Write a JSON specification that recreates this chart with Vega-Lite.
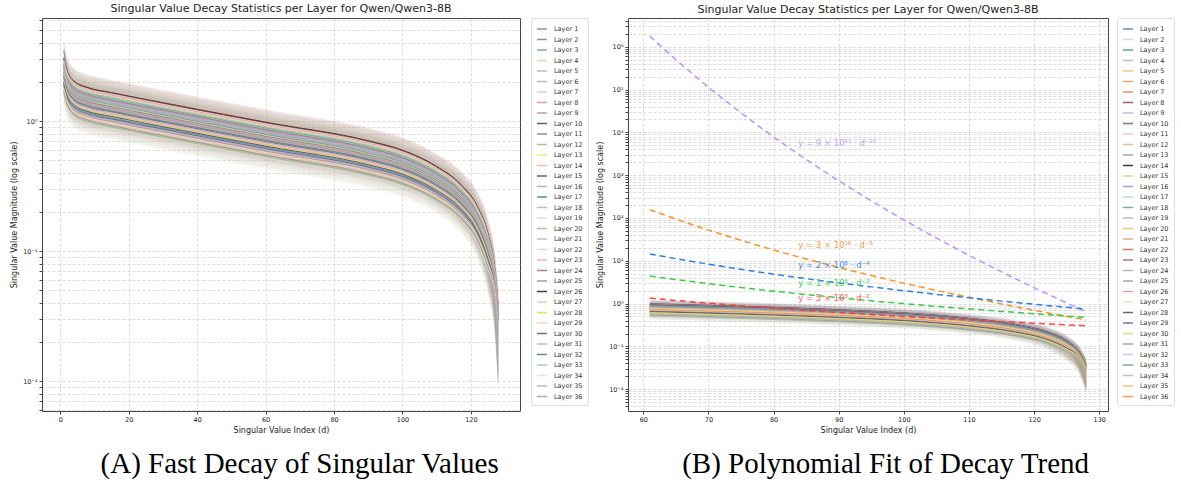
{
"$schema":"https://vega.github.io/schema/vega-lite/v6.json",
"background":"white",
"padding":{"left":10,"top":2,"right":2,"bottom":0},
"config":{
 "font":"DejaVu Sans",
 "view":{"stroke":"#444","strokeWidth":1},
 "axis":{"domain":false,"grid":true,"gridColor":"#c4c4c4","gridDash":[3,2],"gridWidth":0.6,"tickColor":"#444","tickSize":3,"labelFontSize":6.5,"labelColor":"#222","titleFontSize":8,"titleFontWeight":"normal","titleColor":"#222","labelPadding":2,"labelOverlap":false,"labelFlush":false},
 "title":{"fontSize":11,"fontWeight":"normal","color":"#222","offset":3},
 "legend":{"labelFontSize":6.5,"labelColor":"#333","symbolType":"stroke","symbolSize":100,"symbolStrokeWidth":1.5,"rowPadding":0.5,"padding":5,"strokeColor":"#ddd","cornerRadius":2,"fillColor":"white","labelOffset":6,"offset":10,"symbolLimit":40},
 "concat":{"spacing":7}
},
"datasets":{
"layers":[
{"l":1,"d":1,"v":3.5,"a":2.6,"b":4.6},{"l":1,"d":2,"v":2.5,"a":2.0,"b":3.1},{"l":1,"d":4,"v":1.65,"a":1.32,"b":2.06},{"l":1,"d":8,"v":1.47,"a":1.18,"b":1.84},{"l":1,"d":15,"v":1.34,"a":1.07,"b":1.67},{"l":1,"d":30,"v":1.12,"a":0.895,"b":1.40},{"l":1,"d":61,"v":0.784,"a":0.627,"b":0.981},{"l":1,"d":90,"v":0.571,"a":0.456,"b":0.713},{"l":1,"d":100,"v":0.483,"a":0.386,"b":0.603},{"l":1,"d":110,"v":0.362,"a":0.290,"b":0.453},{"l":1,"d":117,"v":0.263,"a":0.205,"b":0.334},{"l":1,"d":122,"v":0.176,"a":0.126,"b":0.228},{"l":1,"d":125,"v":0.110,"a":0.0680,"b":0.143},{"l":1,"d":127,"v":0.0617,"a":0.0278,"b":0.0833},{"l":1,"d":128,"v":0.0327,"a":0.0098,"b":0.0458},
{"l":2,"d":1,"v":1.96,"a":1.53,"b":2.65},{"l":2,"d":2,"v":1.57,"a":1.25,"b":1.96},{"l":2,"d":4,"v":1.31,"a":1.05,"b":1.63},{"l":2,"d":8,"v":1.17,"a":0.934,"b":1.46},{"l":2,"d":15,"v":1.06,"a":0.850,"b":1.33},{"l":2,"d":30,"v":0.888,"a":0.711,"b":1.11},{"l":2,"d":61,"v":0.623,"a":0.498,"b":0.778},{"l":2,"d":90,"v":0.453,"a":0.362,"b":0.566},{"l":2,"d":100,"v":0.383,"a":0.306,"b":0.479},{"l":2,"d":110,"v":0.287,"a":0.230,"b":0.359},{"l":2,"d":117,"v":0.209,"a":0.163,"b":0.265},{"l":2,"d":122,"v":0.139,"a":0.100,"b":0.181},{"l":2,"d":125,"v":0.0871,"a":0.0540,"b":0.113},{"l":2,"d":127,"v":0.0535,"a":0.0241,"b":0.0722},{"l":2,"d":128,"v":0.0294,"a":0.0088,"b":0.0412},
{"l":3,"d":1,"v":2.77,"a":2.16,"b":3.73},{"l":3,"d":2,"v":2.21,"a":1.77,"b":2.77},{"l":3,"d":4,"v":1.84,"a":1.48,"b":2.31},{"l":3,"d":8,"v":1.65,"a":1.32,"b":2.06},{"l":3,"d":15,"v":1.50,"a":1.20,"b":1.87},{"l":3,"d":30,"v":1.25,"a":1.00,"b":1.57},{"l":3,"d":61,"v":0.879,"a":0.703,"b":1.10},{"l":3,"d":90,"v":0.639,"a":0.511,"b":0.799},{"l":3,"d":100,"v":0.541,"a":0.433,"b":0.676},{"l":3,"d":110,"v":0.406,"a":0.324,"b":0.507},{"l":3,"d":117,"v":0.295,"a":0.230,"b":0.374},{"l":3,"d":122,"v":0.197,"a":0.142,"b":0.256},{"l":3,"d":125,"v":0.123,"a":0.0762,"b":0.160},{"l":3,"d":127,"v":0.0665,"a":0.0299,"b":0.0898},{"l":3,"d":128,"v":0.0346,"a":0.0104,"b":0.0485},
{"l":4,"d":1,"v":1.75,"a":1.36,"b":2.36},{"l":4,"d":2,"v":1.40,"a":1.12,"b":1.75},{"l":4,"d":4,"v":1.17,"a":0.932,"b":1.46},{"l":4,"d":8,"v":1.04,"a":0.832,"b":1.30},{"l":4,"d":15,"v":0.947,"a":0.758,"b":1.18},{"l":4,"d":30,"v":0.792,"a":0.634,"b":0.990},{"l":4,"d":61,"v":0.555,"a":0.444,"b":0.694},{"l":4,"d":90,"v":0.404,"a":0.323,"b":0.505},{"l":4,"d":100,"v":0.342,"a":0.273,"b":0.427},{"l":4,"d":110,"v":0.256,"a":0.205,"b":0.320},{"l":4,"d":117,"v":0.186,"a":0.145,"b":0.237},{"l":4,"d":122,"v":0.124,"a":0.089,"b":0.162},{"l":4,"d":125,"v":0.0777,"a":0.0482,"b":0.101},{"l":4,"d":127,"v":0.0501,"a":0.0225,"b":0.0676},{"l":4,"d":128,"v":0.0280,"a":0.0084,"b":0.0393},
{"l":5,"d":1,"v":2.26,"a":1.76,"b":3.05},{"l":5,"d":2,"v":1.81,"a":1.44,"b":2.26},{"l":5,"d":4,"v":1.50,"a":1.20,"b":1.88},{"l":5,"d":8,"v":1.34,"a":1.08,"b":1.68},{"l":5,"d":15,"v":1.22,"a":0.979,"b":1.53},{"l":5,"d":30,"v":1.02,"a":0.818,"b":1.28},{"l":5,"d":61,"v":0.717,"a":0.574,"b":0.896},{"l":5,"d":90,"v":0.521,"a":0.417,"b":0.652},{"l":5,"d":100,"v":0.441,"a":0.353,"b":0.552},{"l":5,"d":110,"v":0.331,"a":0.265,"b":0.414},{"l":5,"d":117,"v":0.241,"a":0.188,"b":0.305},{"l":5,"d":122,"v":0.160,"a":0.116,"b":0.209},{"l":5,"d":125,"v":0.100,"a":0.0622,"b":0.130},{"l":5,"d":127,"v":0.0583,"a":0.0262,"b":0.0787},{"l":5,"d":128,"v":0.0313,"a":0.0094,"b":0.0439},
{"l":6,"d":1,"v":2.94,"a":2.29,"b":3.96},{"l":6,"d":2,"v":2.35,"a":1.88,"b":2.94},{"l":6,"d":4,"v":1.96,"a":1.57,"b":2.45},{"l":6,"d":8,"v":1.75,"a":1.40,"b":2.19},{"l":6,"d":15,"v":1.59,"a":1.27,"b":1.99},{"l":6,"d":30,"v":1.33,"a":1.06,"b":1.66},{"l":6,"d":61,"v":0.933,"a":0.746,"b":1.17},{"l":6,"d":90,"v":0.678,"a":0.543,"b":0.848},{"l":6,"d":100,"v":0.574,"a":0.459,"b":0.717},{"l":6,"d":110,"v":0.431,"a":0.344,"b":0.538},{"l":6,"d":117,"v":0.313,"a":0.244,"b":0.397},{"l":6,"d":122,"v":0.209,"a":0.150,"b":0.271},{"l":6,"d":125,"v":0.131,"a":0.0809,"b":0.170},{"l":6,"d":127,"v":0.0693,"a":0.0312,"b":0.0935},{"l":6,"d":128,"v":0.0357,"a":0.0107,"b":0.0500},
{"l":7,"d":1,"v":2.09,"a":1.63,"b":2.82},{"l":7,"d":2,"v":1.67,"a":1.34,"b":2.09},{"l":7,"d":4,"v":1.39,"a":1.11,"b":1.74},{"l":7,"d":8,"v":1.24,"a":0.994,"b":1.55},{"l":7,"d":15,"v":1.13,"a":0.905,"b":1.41},{"l":7,"d":30,"v":0.946,"a":0.757,"b":1.18},{"l":7,"d":61,"v":0.663,"a":0.530,"b":0.829},{"l":7,"d":90,"v":0.482,"a":0.386,"b":0.603},{"l":7,"d":100,"v":0.408,"a":0.326,"b":0.510},{"l":7,"d":110,"v":0.306,"a":0.245,"b":0.383},{"l":7,"d":117,"v":0.223,"a":0.174,"b":0.283},{"l":7,"d":122,"v":0.148,"a":0.107,"b":0.193},{"l":7,"d":125,"v":0.0927,"a":0.0575,"b":0.121},{"l":7,"d":127,"v":0.0555,"a":0.0250,"b":0.0750},{"l":7,"d":128,"v":0.0302,"a":0.0091,"b":0.0423},
{"l":8,"d":1,"v":2.64,"a":2.06,"b":3.56},{"l":8,"d":2,"v":2.11,"a":1.69,"b":2.64},{"l":8,"d":4,"v":1.76,"a":1.41,"b":2.20},{"l":8,"d":8,"v":1.57,"a":1.26,"b":1.96},{"l":8,"d":15,"v":1.43,"a":1.15,"b":1.79},{"l":8,"d":30,"v":1.20,"a":0.957,"b":1.50},{"l":8,"d":61,"v":0.838,"a":0.671,"b":1.05},{"l":8,"d":90,"v":0.610,"a":0.488,"b":0.762},{"l":8,"d":100,"v":0.516,"a":0.413,"b":0.645},{"l":8,"d":110,"v":0.387,"a":0.310,"b":0.484},{"l":8,"d":117,"v":0.281,"a":0.220,"b":0.357},{"l":8,"d":122,"v":0.188,"a":0.135,"b":0.244},{"l":8,"d":125,"v":0.117,"a":0.0727,"b":0.152},{"l":8,"d":127,"v":0.0645,"a":0.0290,"b":0.0870},{"l":8,"d":128,"v":0.0338,"a":0.0102,"b":0.0473},
{"l":9,"d":1,"v":1.83,"a":1.43,"b":2.47},{"l":9,"d":2,"v":1.47,"a":1.17,"b":1.83},{"l":9,"d":4,"v":1.22,"a":0.977,"b":1.53},{"l":9,"d":8,"v":1.09,"a":0.873,"b":1.36},{"l":9,"d":15,"v":0.993,"a":0.795,"b":1.24},{"l":9,"d":30,"v":0.831,"a":0.664,"b":1.04},{"l":9,"d":61,"v":0.582,"a":0.466,"b":0.728},{"l":9,"d":90,"v":0.423,"a":0.339,"b":0.529},{"l":9,"d":100,"v":0.358,"a":0.287,"b":0.448},{"l":9,"d":110,"v":0.269,"a":0.215,"b":0.336},{"l":9,"d":117,"v":0.195,"a":0.152,"b":0.248},{"l":9,"d":122,"v":0.130,"a":0.094,"b":0.169},{"l":9,"d":125,"v":0.0814,"a":0.0505,"b":0.106},{"l":9,"d":127,"v":0.0514,"a":0.0231,"b":0.0694},{"l":9,"d":128,"v":0.0286,"a":0.0086,"b":0.0400},
{"l":10,"d":1,"v":3.02,"a":2.36,"b":4.08},{"l":10,"d":2,"v":2.42,"a":1.93,"b":3.02},{"l":10,"d":4,"v":2.01,"a":1.61,"b":2.52},{"l":10,"d":8,"v":1.80,"a":1.44,"b":2.25},{"l":10,"d":15,"v":1.64,"a":1.31,"b":2.05},{"l":10,"d":30,"v":1.37,"a":1.10,"b":1.71},{"l":10,"d":61,"v":0.960,"a":0.768,"b":1.20},{"l":10,"d":90,"v":0.698,"a":0.558,"b":0.873},{"l":10,"d":100,"v":0.591,"a":0.472,"b":0.738},{"l":10,"d":110,"v":0.443,"a":0.354,"b":0.554},{"l":10,"d":117,"v":0.322,"a":0.251,"b":0.409},{"l":10,"d":122,"v":0.215,"a":0.155,"b":0.279},{"l":10,"d":125,"v":0.134,"a":0.0832,"b":0.175},{"l":10,"d":127,"v":0.0706,"a":0.0318,"b":0.0954},{"l":10,"d":128,"v":0.0363,"a":0.0109,"b":0.0508},
{"l":11,"d":1,"v":2.38,"a":1.86,"b":3.22},{"l":11,"d":2,"v":1.91,"a":1.53,"b":2.38},{"l":11,"d":4,"v":1.59,"a":1.27,"b":1.99},{"l":11,"d":8,"v":1.42,"a":1.14,"b":1.78},{"l":11,"d":15,"v":1.29,"a":1.03,"b":1.62},{"l":11,"d":30,"v":1.08,"a":0.864,"b":1.35},{"l":11,"d":61,"v":0.757,"a":0.606,"b":0.947},{"l":11,"d":90,"v":0.551,"a":0.441,"b":0.689},{"l":11,"d":100,"v":0.466,"a":0.373,"b":0.583},{"l":11,"d":110,"v":0.350,"a":0.280,"b":0.437},{"l":11,"d":117,"v":0.254,"a":0.198,"b":0.323},{"l":11,"d":122,"v":0.170,"a":0.122,"b":0.220},{"l":11,"d":125,"v":0.106,"a":0.0657,"b":0.138},{"l":11,"d":127,"v":0.0603,"a":0.0272,"b":0.0815},{"l":11,"d":128,"v":0.0322,"a":0.0097,"b":0.0450},
{"l":12,"d":1,"v":1.66,"a":1.30,"b":2.24},{"l":12,"d":2,"v":1.33,"a":1.06,"b":1.66},{"l":12,"d":4,"v":1.11,"a":0.887,"b":1.39},{"l":12,"d":8,"v":0.990,"a":0.792,"b":1.24},{"l":12,"d":15,"v":0.901,"a":0.721,"b":1.13},{"l":12,"d":30,"v":0.754,"a":0.603,"b":0.942},{"l":12,"d":61,"v":0.528,"a":0.423,"b":0.660},{"l":12,"d":90,"v":0.384,"a":0.307,"b":0.480},{"l":12,"d":100,"v":0.325,"a":0.260,"b":0.406},{"l":12,"d":110,"v":0.244,"a":0.195,"b":0.305},{"l":12,"d":117,"v":0.177,"a":0.138,"b":0.225},{"l":12,"d":122,"v":0.118,"a":0.085,"b":0.154},{"l":12,"d":125,"v":0.0739,"a":0.0458,"b":0.0961},{"l":12,"d":127,"v":0.0487,"a":0.0219,"b":0.0657},{"l":12,"d":128,"v":0.0275,"a":0.0082,"b":0.0385},
{"l":13,"d":1,"v":2.85,"a":2.22,"b":3.85},{"l":13,"d":2,"v":2.28,"a":1.82,"b":2.85},{"l":13,"d":4,"v":1.90,"a":1.52,"b":2.38},{"l":13,"d":8,"v":1.70,"a":1.36,"b":2.12},{"l":13,"d":15,"v":1.55,"a":1.24,"b":1.93},{"l":13,"d":30,"v":1.29,"a":1.03,"b":1.62},{"l":13,"d":61,"v":0.906,"a":0.724,"b":1.13},{"l":13,"d":90,"v":0.659,"a":0.527,"b":0.823},{"l":13,"d":100,"v":0.557,"a":0.446,"b":0.697},{"l":13,"d":110,"v":0.418,"a":0.334,"b":0.523},{"l":13,"d":117,"v":0.304,"a":0.237,"b":0.386},{"l":13,"d":122,"v":0.203,"a":0.146,"b":0.264},{"l":13,"d":125,"v":0.127,"a":0.0786,"b":0.165},{"l":13,"d":127,"v":0.0679,"a":0.0306,"b":0.0917},{"l":13,"d":128,"v":0.0352,"a":0.0106,"b":0.0493},
{"l":14,"d":1,"v":3.11,"a":2.42,"b":4.19},{"l":14,"d":2,"v":2.48,"a":1.99,"b":3.11},{"l":14,"d":4,"v":2.07,"a":1.66,"b":2.59},{"l":14,"d":8,"v":1.85,"a":1.48,"b":2.31},{"l":14,"d":15,"v":1.68,"a":1.35,"b":2.10},{"l":14,"d":30,"v":1.41,"a":1.13,"b":1.76},{"l":14,"d":61,"v":0.987,"a":0.789,"b":1.23},{"l":14,"d":90,"v":0.718,"a":0.574,"b":0.897},{"l":14,"d":100,"v":0.607,"a":0.486,"b":0.759},{"l":14,"d":110,"v":0.455,"a":0.364,"b":0.569},{"l":14,"d":117,"v":0.331,"a":0.258,"b":0.420},{"l":14,"d":122,"v":0.221,"a":0.159,"b":0.287},{"l":14,"d":125,"v":0.138,"a":0.0856,"b":0.179},{"l":14,"d":127,"v":0.0720,"a":0.0324,"b":0.0972},{"l":14,"d":128,"v":0.0368,"a":0.0111,"b":0.0516},
{"l":15,"d":1,"v":2.00,"a":1.56,"b":2.70},{"l":15,"d":2,"v":1.60,"a":1.28,"b":2.00},{"l":15,"d":4,"v":1.34,"a":1.07,"b":1.67},{"l":15,"d":8,"v":1.19,"a":0.954,"b":1.49},{"l":15,"d":15,"v":1.09,"a":0.868,"b":1.36},{"l":15,"d":30,"v":0.907,"a":0.726,"b":1.13},{"l":15,"d":61,"v":0.636,"a":0.509,"b":0.795},{"l":15,"d":90,"v":0.463,"a":0.370,"b":0.578},{"l":15,"d":100,"v":0.391,"a":0.313,"b":0.489},{"l":15,"d":110,"v":0.294,"a":0.235,"b":0.367},{"l":15,"d":117,"v":0.214,"a":0.167,"b":0.271},{"l":15,"d":122,"v":0.142,"a":0.102,"b":0.185},{"l":15,"d":125,"v":0.0890,"a":0.0552,"b":0.116},{"l":15,"d":127,"v":0.0542,"a":0.0244,"b":0.0731},{"l":15,"d":128,"v":0.0297,"a":0.0089,"b":0.0416},
{"l":16,"d":1,"v":2.55,"a":1.99,"b":3.45},{"l":16,"d":2,"v":2.04,"a":1.63,"b":2.55},{"l":16,"d":4,"v":1.70,"a":1.36,"b":2.13},{"l":16,"d":8,"v":1.52,"a":1.22,"b":1.90},{"l":16,"d":15,"v":1.39,"a":1.11,"b":1.73},{"l":16,"d":30,"v":1.16,"a":0.926,"b":1.45},{"l":16,"d":61,"v":0.811,"a":0.649,"b":1.01},{"l":16,"d":90,"v":0.590,"a":0.472,"b":0.738},{"l":16,"d":100,"v":0.499,"a":0.399,"b":0.624},{"l":16,"d":110,"v":0.374,"a":0.300,"b":0.468},{"l":16,"d":117,"v":0.272,"a":0.212,"b":0.346},{"l":16,"d":122,"v":0.182,"a":0.131,"b":0.236},{"l":16,"d":125,"v":0.114,"a":0.0704,"b":0.148},{"l":16,"d":127,"v":0.0631,"a":0.0284,"b":0.0852},{"l":16,"d":128,"v":0.0333,"a":0.0100,"b":0.0466},
{"l":17,"d":1,"v":2.17,"a":1.69,"b":2.93},{"l":17,"d":2,"v":1.74,"a":1.39,"b":2.17},{"l":17,"d":4,"v":1.45,"a":1.16,"b":1.81},{"l":17,"d":8,"v":1.29,"a":1.03,"b":1.62},{"l":17,"d":15,"v":1.18,"a":0.942,"b":1.47},{"l":17,"d":30,"v":0.984,"a":0.787,"b":1.23},{"l":17,"d":61,"v":0.690,"a":0.552,"b":0.863},{"l":17,"d":90,"v":0.502,"a":0.402,"b":0.627},{"l":17,"d":100,"v":0.425,"a":0.340,"b":0.531},{"l":17,"d":110,"v":0.318,"a":0.255,"b":0.398},{"l":17,"d":117,"v":0.232,"a":0.181,"b":0.294},{"l":17,"d":122,"v":0.154,"a":0.111,"b":0.201},{"l":17,"d":125,"v":0.0965,"a":0.0598,"b":0.126},{"l":17,"d":127,"v":0.0569,"a":0.0256,"b":0.0768},{"l":17,"d":128,"v":0.0308,"a":0.0092,"b":0.0431},
{"l":18,"d":1,"v":2.72,"a":2.12,"b":3.68},{"l":18,"d":2,"v":2.18,"a":1.74,"b":2.72},{"l":18,"d":4,"v":1.82,"a":1.45,"b":2.27},{"l":18,"d":8,"v":1.62,"a":1.30,"b":2.03},{"l":18,"d":15,"v":1.48,"a":1.18,"b":1.85},{"l":18,"d":30,"v":1.23,"a":0.987,"b":1.54},{"l":18,"d":61,"v":0.865,"a":0.692,"b":1.08},{"l":18,"d":90,"v":0.629,"a":0.503,"b":0.787},{"l":18,"d":100,"v":0.533,"a":0.426,"b":0.666},{"l":18,"d":110,"v":0.399,"a":0.320,"b":0.499},{"l":18,"d":117,"v":0.290,"a":0.227,"b":0.369},{"l":18,"d":122,"v":0.194,"a":0.139,"b":0.252},{"l":18,"d":125,"v":0.121,"a":0.0750,"b":0.157},{"l":18,"d":127,"v":0.0658,"a":0.0296,"b":0.0889},{"l":18,"d":128,"v":0.0344,"a":0.0103,"b":0.0481},
{"l":19,"d":1,"v":1.62,"a":1.26,"b":2.19},{"l":19,"d":2,"v":1.30,"a":1.04,"b":1.62},{"l":19,"d":4,"v":1.08,"a":0.864,"b":1.35},{"l":19,"d":8,"v":0.965,"a":0.772,"b":1.21},{"l":19,"d":15,"v":0.878,"a":0.703,"b":1.10},{"l":19,"d":30,"v":0.734,"a":0.588,"b":0.918},{"l":19,"d":61,"v":0.515,"a":0.412,"b":0.644},{"l":19,"d":90,"v":0.374,"a":0.300,"b":0.468},{"l":19,"d":100,"v":0.317,"a":0.253,"b":0.396},{"l":19,"d":110,"v":0.238,"a":0.190,"b":0.297},{"l":19,"d":117,"v":0.173,"a":0.135,"b":0.219},{"l":19,"d":122,"v":0.115,"a":0.083,"b":0.150},{"l":19,"d":125,"v":0.0720,"a":0.0446,"b":0.0936},{"l":19,"d":127,"v":0.0480,"a":0.0216,"b":0.0648},{"l":19,"d":128,"v":0.0272,"a":0.0082,"b":0.0381},
{"l":20,"d":1,"v":2.34,"a":1.83,"b":3.16},{"l":20,"d":2,"v":1.87,"a":1.50,"b":2.34},{"l":20,"d":4,"v":1.56,"a":1.25,"b":1.95},{"l":20,"d":8,"v":1.39,"a":1.12,"b":1.74},{"l":20,"d":15,"v":1.27,"a":1.02,"b":1.59},{"l":20,"d":30,"v":1.06,"a":0.849,"b":1.33},{"l":20,"d":61,"v":0.744,"a":0.595,"b":0.930},{"l":20,"d":90,"v":0.541,"a":0.433,"b":0.676},{"l":20,"d":100,"v":0.458,"a":0.366,"b":0.572},{"l":20,"d":110,"v":0.343,"a":0.275,"b":0.429},{"l":20,"d":117,"v":0.250,"a":0.195,"b":0.317},{"l":20,"d":122,"v":0.166,"a":0.120,"b":0.216},{"l":20,"d":125,"v":0.104,"a":0.0645,"b":0.135},{"l":20,"d":127,"v":0.0597,"a":0.0269,"b":0.0805},{"l":20,"d":128,"v":0.0319,"a":0.0096,"b":0.0446},
{"l":21,"d":1,"v":1.88,"a":1.46,"b":2.53},{"l":21,"d":2,"v":1.50,"a":1.20,"b":1.88},{"l":21,"d":4,"v":1.25,"a":1.00,"b":1.56},{"l":21,"d":8,"v":1.12,"a":0.893,"b":1.40},{"l":21,"d":15,"v":1.02,"a":0.813,"b":1.27},{"l":21,"d":30,"v":0.850,"a":0.680,"b":1.06},{"l":21,"d":61,"v":0.596,"a":0.477,"b":0.745},{"l":21,"d":90,"v":0.433,"a":0.347,"b":0.542},{"l":21,"d":100,"v":0.367,"a":0.293,"b":0.458},{"l":21,"d":110,"v":0.275,"a":0.220,"b":0.344},{"l":21,"d":117,"v":0.200,"a":0.156,"b":0.254},{"l":21,"d":122,"v":0.133,"a":0.096,"b":0.173},{"l":21,"d":125,"v":0.0833,"a":0.0517,"b":0.108},{"l":21,"d":127,"v":0.0521,"a":0.0235,"b":0.0704},{"l":21,"d":128,"v":0.0289,"a":0.0087,"b":0.0404},
{"l":22,"d":1,"v":2.89,"a":2.26,"b":3.91},{"l":22,"d":2,"v":2.31,"a":1.85,"b":2.89},{"l":22,"d":4,"v":1.93,"a":1.54,"b":2.41},{"l":22,"d":8,"v":1.72,"a":1.38,"b":2.15},{"l":22,"d":15,"v":1.57,"a":1.26,"b":1.96},{"l":22,"d":30,"v":1.31,"a":1.05,"b":1.64},{"l":22,"d":61,"v":0.919,"a":0.735,"b":1.15},{"l":22,"d":90,"v":0.669,"a":0.535,"b":0.836},{"l":22,"d":100,"v":0.566,"a":0.453,"b":0.707},{"l":22,"d":110,"v":0.424,"a":0.339,"b":0.530},{"l":22,"d":117,"v":0.309,"a":0.241,"b":0.392},{"l":22,"d":122,"v":0.206,"a":0.148,"b":0.267},{"l":22,"d":125,"v":0.129,"a":0.0797,"b":0.167},{"l":22,"d":127,"v":0.0686,"a":0.0309,"b":0.0926},{"l":22,"d":128,"v":0.0355,"a":0.0107,"b":0.0496},
{"l":23,"d":1,"v":2.13,"a":1.66,"b":2.87},{"l":23,"d":2,"v":1.70,"a":1.36,"b":2.13},{"l":23,"d":4,"v":1.42,"a":1.14,"b":1.77},{"l":23,"d":8,"v":1.27,"a":1.01,"b":1.59},{"l":23,"d":15,"v":1.16,"a":0.924,"b":1.44},{"l":23,"d":30,"v":0.965,"a":0.772,"b":1.21},{"l":23,"d":61,"v":0.677,"a":0.541,"b":0.846},{"l":23,"d":90,"v":0.492,"a":0.394,"b":0.615},{"l":23,"d":100,"v":0.416,"a":0.333,"b":0.520},{"l":23,"d":110,"v":0.312,"a":0.250,"b":0.390},{"l":23,"d":117,"v":0.227,"a":0.177,"b":0.288},{"l":23,"d":122,"v":0.151,"a":0.109,"b":0.197},{"l":23,"d":125,"v":0.0946,"a":0.0587,"b":0.123},{"l":23,"d":127,"v":0.0562,"a":0.0253,"b":0.0759},{"l":23,"d":128,"v":0.0305,"a":0.0092,"b":0.0427},
{"l":24,"d":1,"v":2.68,"a":2.09,"b":3.62},{"l":24,"d":2,"v":2.15,"a":1.72,"b":2.68},{"l":24,"d":4,"v":1.79,"a":1.43,"b":2.23},{"l":24,"d":8,"v":1.60,"a":1.28,"b":2.00},{"l":24,"d":15,"v":1.45,"a":1.16,"b":1.82},{"l":24,"d":30,"v":1.22,"a":0.972,"b":1.52},{"l":24,"d":61,"v":0.852,"a":0.681,"b":1.07},{"l":24,"d":90,"v":0.620,"a":0.496,"b":0.774},{"l":24,"d":100,"v":0.524,"a":0.419,"b":0.655},{"l":24,"d":110,"v":0.393,"a":0.315,"b":0.491},{"l":24,"d":117,"v":0.286,"a":0.223,"b":0.363},{"l":24,"d":122,"v":0.191,"a":0.137,"b":0.248},{"l":24,"d":125,"v":0.119,"a":0.0739,"b":0.155},{"l":24,"d":127,"v":0.0652,"a":0.0293,"b":0.0880},{"l":24,"d":128,"v":0.0341,"a":0.0102,"b":0.0477},
{"l":25,"d":1,"v":1.71,"a":1.33,"b":2.30},{"l":25,"d":2,"v":1.36,"a":1.09,"b":1.71},{"l":25,"d":4,"v":1.14,"a":0.909,"b":1.42},{"l":25,"d":8,"v":1.02,"a":0.812,"b":1.27},{"l":25,"d":15,"v":0.924,"a":0.740,"b":1.16},{"l":25,"d":30,"v":0.773,"a":0.618,"b":0.966},{"l":25,"d":61,"v":0.542,"a":0.433,"b":0.677},{"l":25,"d":90,"v":0.394,"a":0.315,"b":0.493},{"l":25,"d":100,"v":0.333,"a":0.267,"b":0.417},{"l":25,"d":110,"v":0.250,"a":0.200,"b":0.313},{"l":25,"d":117,"v":0.182,"a":0.142,"b":0.231},{"l":25,"d":122,"v":0.121,"a":0.087,"b":0.158},{"l":25,"d":125,"v":0.0758,"a":0.0470,"b":0.0985},{"l":25,"d":127,"v":0.0494,"a":0.0222,"b":0.0667},{"l":25,"d":128,"v":0.0278,"a":0.0083,"b":0.0389},
{"l":26,"d":1,"v":3.06,"a":2.39,"b":4.14},{"l":26,"d":2,"v":2.45,"a":1.96,"b":3.06},{"l":26,"d":4,"v":2.04,"a":1.63,"b":2.55},{"l":26,"d":8,"v":1.82,"a":1.46,"b":2.28},{"l":26,"d":15,"v":1.66,"a":1.33,"b":2.08},{"l":26,"d":30,"v":1.39,"a":1.11,"b":1.74},{"l":26,"d":61,"v":0.973,"a":0.778,"b":1.22},{"l":26,"d":90,"v":0.708,"a":0.566,"b":0.885},{"l":26,"d":100,"v":0.599,"a":0.479,"b":0.749},{"l":26,"d":110,"v":0.449,"a":0.359,"b":0.561},{"l":26,"d":117,"v":0.327,"a":0.255,"b":0.415},{"l":26,"d":122,"v":0.218,"a":0.157,"b":0.283},{"l":26,"d":125,"v":0.136,"a":0.0844,"b":0.177},{"l":26,"d":127,"v":0.0713,"a":0.0321,"b":0.0963},{"l":26,"d":128,"v":0.0366,"a":0.0110,"b":0.0512},
{"l":27,"d":1,"v":2.43,"a":1.89,"b":3.28},{"l":27,"d":2,"v":1.94,"a":1.55,"b":2.43},{"l":27,"d":4,"v":1.62,"a":1.29,"b":2.02},{"l":27,"d":8,"v":1.45,"a":1.16,"b":1.81},{"l":27,"d":15,"v":1.32,"a":1.05,"b":1.64},{"l":27,"d":30,"v":1.10,"a":0.880,"b":1.38},{"l":27,"d":61,"v":0.771,"a":0.617,"b":0.964},{"l":27,"d":90,"v":0.561,"a":0.449,"b":0.701},{"l":27,"d":100,"v":0.474,"a":0.380,"b":0.593},{"l":27,"d":110,"v":0.356,"a":0.285,"b":0.445},{"l":27,"d":117,"v":0.259,"a":0.202,"b":0.328},{"l":27,"d":122,"v":0.173,"a":0.124,"b":0.224},{"l":27,"d":125,"v":0.108,"a":0.0669,"b":0.140},{"l":27,"d":127,"v":0.0610,"a":0.0275,"b":0.0824},{"l":27,"d":128,"v":0.0324,"a":0.0097,"b":0.0454},
{"l":28,"d":1,"v":2.04,"a":1.59,"b":2.76},{"l":28,"d":2,"v":1.64,"a":1.31,"b":2.04},{"l":28,"d":4,"v":1.36,"a":1.09,"b":1.70},{"l":28,"d":8,"v":1.22,"a":0.974,"b":1.52},{"l":28,"d":15,"v":1.11,"a":0.887,"b":1.39},{"l":28,"d":30,"v":0.927,"a":0.741,"b":1.16},{"l":28,"d":61,"v":0.650,"a":0.520,"b":0.812},{"l":28,"d":90,"v":0.472,"a":0.378,"b":0.591},{"l":28,"d":100,"v":0.400,"a":0.320,"b":0.500},{"l":28,"d":110,"v":0.300,"a":0.240,"b":0.375},{"l":28,"d":117,"v":0.218,"a":0.170,"b":0.277},{"l":28,"d":122,"v":0.145,"a":0.105,"b":0.189},{"l":28,"d":125,"v":0.0909,"a":0.0563,"b":0.118},{"l":28,"d":127,"v":0.0549,"a":0.0247,"b":0.0741},{"l":28,"d":128,"v":0.0300,"a":0.0090,"b":0.0420},
{"l":29,"d":1,"v":2.98,"a":2.32,"b":4.02},{"l":29,"d":2,"v":2.38,"a":1.91,"b":2.98},{"l":29,"d":4,"v":1.99,"a":1.59,"b":2.48},{"l":29,"d":8,"v":1.77,"a":1.42,"b":2.22},{"l":29,"d":15,"v":1.62,"a":1.29,"b":2.02},{"l":29,"d":30,"v":1.35,"a":1.08,"b":1.69},{"l":29,"d":61,"v":0.946,"a":0.757,"b":1.18},{"l":29,"d":90,"v":0.688,"a":0.551,"b":0.860},{"l":29,"d":100,"v":0.582,"a":0.466,"b":0.728},{"l":29,"d":110,"v":0.437,"a":0.349,"b":0.546},{"l":29,"d":117,"v":0.318,"a":0.248,"b":0.403},{"l":29,"d":122,"v":0.212,"a":0.152,"b":0.275},{"l":29,"d":125,"v":0.132,"a":0.0821,"b":0.172},{"l":29,"d":127,"v":0.0700,"a":0.0315,"b":0.0944},{"l":29,"d":128,"v":0.0360,"a":0.0108,"b":0.0504},
{"l":30,"d":1,"v":1.92,"a":1.50,"b":2.59},{"l":30,"d":2,"v":1.53,"a":1.23,"b":1.92},{"l":30,"d":4,"v":1.28,"a":1.02,"b":1.60},{"l":30,"d":8,"v":1.14,"a":0.913,"b":1.43},{"l":30,"d":15,"v":1.04,"a":0.832,"b":1.30},{"l":30,"d":30,"v":0.869,"a":0.695,"b":1.09},{"l":30,"d":61,"v":0.609,"a":0.487,"b":0.761},{"l":30,"d":90,"v":0.443,"a":0.354,"b":0.554},{"l":30,"d":100,"v":0.375,"a":0.300,"b":0.469},{"l":30,"d":110,"v":0.281,"a":0.225,"b":0.351},{"l":30,"d":117,"v":0.204,"a":0.160,"b":0.260},{"l":30,"d":122,"v":0.136,"a":0.098,"b":0.177},{"l":30,"d":125,"v":0.0852,"a":0.0528,"b":0.111},{"l":30,"d":127,"v":0.0528,"a":0.0238,"b":0.0713},{"l":30,"d":128,"v":0.0291,"a":0.0087,"b":0.0408},
{"l":31,"d":1,"v":2.60,"a":2.03,"b":3.50},{"l":31,"d":2,"v":2.08,"a":1.66,"b":2.60},{"l":31,"d":4,"v":1.73,"a":1.38,"b":2.16},{"l":31,"d":8,"v":1.55,"a":1.24,"b":1.93},{"l":31,"d":15,"v":1.41,"a":1.13,"b":1.76},{"l":31,"d":30,"v":1.18,"a":0.941,"b":1.47},{"l":31,"d":61,"v":0.825,"a":0.660,"b":1.03},{"l":31,"d":90,"v":0.600,"a":0.480,"b":0.750},{"l":31,"d":100,"v":0.508,"a":0.406,"b":0.634},{"l":31,"d":110,"v":0.381,"a":0.305,"b":0.476},{"l":31,"d":117,"v":0.277,"a":0.216,"b":0.351},{"l":31,"d":122,"v":0.185,"a":0.133,"b":0.240},{"l":31,"d":125,"v":0.115,"a":0.0715,"b":0.150},{"l":31,"d":127,"v":0.0638,"a":0.0287,"b":0.0861},{"l":31,"d":128,"v":0.0335,"a":0.0101,"b":0.0470},
{"l":32,"d":1,"v":2.21,"a":1.73,"b":2.99},{"l":32,"d":2,"v":1.77,"a":1.42,"b":2.21},{"l":32,"d":4,"v":1.48,"a":1.18,"b":1.85},{"l":32,"d":8,"v":1.32,"a":1.06,"b":1.65},{"l":32,"d":15,"v":1.20,"a":0.960,"b":1.50},{"l":32,"d":30,"v":1.00,"a":0.803,"b":1.26},{"l":32,"d":61,"v":0.704,"a":0.563,"b":0.879},{"l":32,"d":90,"v":0.512,"a":0.409,"b":0.640},{"l":32,"d":100,"v":0.433,"a":0.346,"b":0.541},{"l":32,"d":110,"v":0.325,"a":0.260,"b":0.406},{"l":32,"d":117,"v":0.236,"a":0.184,"b":0.300},{"l":32,"d":122,"v":0.157,"a":0.113,"b":0.205},{"l":32,"d":125,"v":0.0984,"a":0.0610,"b":0.128},{"l":32,"d":127,"v":0.0576,"a":0.0259,"b":0.0778},{"l":32,"d":128,"v":0.0311,"a":0.0093,"b":0.0435},
{"l":33,"d":1,"v":2.81,"a":2.19,"b":3.79},{"l":33,"d":2,"v":2.25,"a":1.80,"b":2.81},{"l":33,"d":4,"v":1.87,"a":1.50,"b":2.34},{"l":33,"d":8,"v":1.67,"a":1.34,"b":2.09},{"l":33,"d":15,"v":1.52,"a":1.22,"b":1.90},{"l":33,"d":30,"v":1.27,"a":1.02,"b":1.59},{"l":33,"d":61,"v":0.892,"a":0.714,"b":1.12},{"l":33,"d":90,"v":0.649,"a":0.519,"b":0.811},{"l":33,"d":100,"v":0.549,"a":0.439,"b":0.686},{"l":33,"d":110,"v":0.412,"a":0.329,"b":0.515},{"l":33,"d":117,"v":0.300,"a":0.234,"b":0.380},{"l":33,"d":122,"v":0.200,"a":0.144,"b":0.260},{"l":33,"d":125,"v":0.125,"a":0.0774,"b":0.162},{"l":33,"d":127,"v":0.0672,"a":0.0302,"b":0.0907},{"l":33,"d":128,"v":0.0349,"a":0.0105,"b":0.0489},
{"l":34,"d":1,"v":1.79,"a":1.40,"b":2.42},{"l":34,"d":2,"v":1.43,"a":1.15,"b":1.79},{"l":34,"d":4,"v":1.19,"a":0.955,"b":1.49},{"l":34,"d":8,"v":1.07,"a":0.853,"b":1.33},{"l":34,"d":15,"v":0.970,"a":0.776,"b":1.21},{"l":34,"d":30,"v":0.811,"a":0.649,"b":1.01},{"l":34,"d":61,"v":0.569,"a":0.455,"b":0.711},{"l":34,"d":90,"v":0.414,"a":0.331,"b":0.517},{"l":34,"d":100,"v":0.350,"a":0.280,"b":0.437},{"l":34,"d":110,"v":0.262,"a":0.210,"b":0.328},{"l":34,"d":117,"v":0.191,"a":0.149,"b":0.242},{"l":34,"d":122,"v":0.127,"a":0.092,"b":0.165},{"l":34,"d":125,"v":0.0795,"a":0.0493,"b":0.103},{"l":34,"d":127,"v":0.0507,"a":0.0228,"b":0.0685},{"l":34,"d":128,"v":0.0283,"a":0.0085,"b":0.0397},
{"l":35,"d":1,"v":2.51,"a":1.96,"b":3.39},{"l":35,"d":2,"v":2.01,"a":1.61,"b":2.51},{"l":35,"d":4,"v":1.67,"a":1.34,"b":2.09},{"l":35,"d":8,"v":1.50,"a":1.20,"b":1.87},{"l":35,"d":15,"v":1.36,"a":1.09,"b":1.70},{"l":35,"d":30,"v":1.14,"a":0.911,"b":1.42},{"l":35,"d":61,"v":0.798,"a":0.638,"b":0.997},{"l":35,"d":90,"v":0.580,"a":0.464,"b":0.725},{"l":35,"d":100,"v":0.491,"a":0.393,"b":0.614},{"l":35,"d":110,"v":0.368,"a":0.295,"b":0.460},{"l":35,"d":117,"v":0.268,"a":0.209,"b":0.340},{"l":35,"d":122,"v":0.179,"a":0.129,"b":0.232},{"l":35,"d":125,"v":0.112,"a":0.0692,"b":0.145},{"l":35,"d":127,"v":0.0624,"a":0.0281,"b":0.0842},{"l":35,"d":128,"v":0.0330,"a":0.0099,"b":0.0462},
{"l":36,"d":1,"v":2.30,"a":1.79,"b":3.10},{"l":36,"d":2,"v":1.84,"a":1.47,"b":2.30},{"l":36,"d":4,"v":1.53,"a":1.23,"b":1.92},{"l":36,"d":8,"v":1.37,"a":1.10,"b":1.71},{"l":36,"d":15,"v":1.25,"a":0.997,"b":1.56},{"l":36,"d":30,"v":1.04,"a":0.834,"b":1.30},{"l":36,"d":61,"v":0.730,"a":0.584,"b":0.913},{"l":36,"d":90,"v":0.531,"a":0.425,"b":0.664},{"l":36,"d":100,"v":0.450,"a":0.360,"b":0.562},{"l":36,"d":110,"v":0.337,"a":0.270,"b":0.421},{"l":36,"d":117,"v":0.245,"a":0.191,"b":0.311},{"l":36,"d":122,"v":0.163,"a":0.118,"b":0.213},{"l":36,"d":125,"v":0.102,"a":0.0634,"b":0.133},{"l":36,"d":127,"v":0.0590,"a":0.0265,"b":0.0796},{"l":36,"d":128,"v":0.0316,"a":0.0095,"b":0.0443}
],
"fits":[
{"f":"p","d":61,"v":1770000},{"f":"p","d":65,"v":497000},{"f":"p","d":70,"v":112800},{"f":"p","d":75,"v":28400},{"f":"p","d":80,"v":7806},{"f":"p","d":85,"v":2322},{"f":"p","d":90,"v":740},{"f":"p","d":95,"v":251},{"f":"p","d":100,"v":90},{"f":"p","d":105,"v":33.9},{"f":"p","d":110,"v":13.38},{"f":"p","d":115,"v":5.5},{"f":"p","d":120,"v":2.347},{"f":"p","d":125,"v":1.037},{"f":"p","d":128,"v":0.646},
{"f":"o","d":61,"v":156.5},{"f":"o","d":65,"v":94.2},{"f":"o","d":70,"v":52.0},{"f":"o","d":75,"v":30.0},{"f":"o","d":80,"v":17.9},{"f":"o","d":85,"v":11.0},{"f":"o","d":90,"v":6.97},{"f":"o","d":95,"v":4.52},{"f":"o","d":100,"v":3.0},{"f":"o","d":105,"v":2.03},{"f":"o","d":110,"v":1.40},{"f":"o","d":115,"v":0.981},{"f":"o","d":120,"v":0.698},{"f":"o","d":125,"v":0.503},{"f":"o","d":128,"v":0.416},
{"f":"b","d":61,"v":14.44},{"f":"b","d":65,"v":11.2},{"f":"b","d":70,"v":8.33},{"f":"b","d":75,"v":6.32},{"f":"b","d":80,"v":4.88},{"f":"b","d":85,"v":3.83},{"f":"b","d":90,"v":3.05},{"f":"b","d":95,"v":2.46},{"f":"b","d":100,"v":2.0},{"f":"b","d":105,"v":1.645},{"f":"b","d":110,"v":1.366},{"f":"b","d":115,"v":1.143},{"f":"b","d":120,"v":0.965},{"f":"b","d":125,"v":0.819},{"f":"b","d":128,"v":0.745},
{"f":"g","d":61,"v":4.41},{"f":"g","d":65,"v":3.64},{"f":"g","d":70,"v":2.915},{"f":"g","d":75,"v":2.37},{"f":"g","d":80,"v":1.953},{"f":"g","d":85,"v":1.628},{"f":"g","d":90,"v":1.372},{"f":"g","d":95,"v":1.166},{"f":"g","d":100,"v":1.0},{"f":"g","d":105,"v":0.864},{"f":"g","d":110,"v":0.751},{"f":"g","d":115,"v":0.658},{"f":"g","d":120,"v":0.579},{"f":"g","d":125,"v":0.512},{"f":"g","d":128,"v":0.477},
{"f":"r","d":61,"v":1.344},{"f":"r","d":65,"v":1.183},{"f":"r","d":70,"v":1.02},{"f":"r","d":75,"v":0.889},{"f":"r","d":80,"v":0.781},{"f":"r","d":85,"v":0.692},{"f":"r","d":90,"v":0.617},{"f":"r","d":95,"v":0.554},{"f":"r","d":100,"v":0.5},{"f":"r","d":105,"v":0.4535},{"f":"r","d":110,"v":0.413},{"f":"r","d":115,"v":0.378},{"f":"r","d":120,"v":0.347},{"f":"r","d":125,"v":0.32},{"f":"r","d":128,"v":0.305}
],
"notes":[
{"f":"p","d":83.8,"v":5500,"t":"y = 9 × 10⁴¹ · d⁻²⁰"},
{"f":"o","d":83.8,"v":23,"t":"y = 3 × 10¹⁶ · d⁻⁸"},
{"f":"b","d":83.8,"v":7.85,"t":"y = 2 × 10⁸ · d⁻⁴"},
{"f":"g","d":83.8,"v":3.09,"t":"y = 1 × 10⁶ · d⁻³"},
{"f":"r","d":83.8,"v":1.38,"t":"y = 5 × 10³ · d⁻²"}
]
},
"hconcat":[
{
 "title":{"text":"(A) Fast Decay of Singular Values","orient":"bottom","anchor":"middle","font":"Liberation Serif","fontSize":29,"fontWeight":"normal","color":"#000","offset":15},
 "vconcat":[{
  "title":"Singular Value Decay Statistics per Layer for Qwen/Qwen3-8B",
  "width":478,"height":393,
  "data":{"name":"layers"},
  "encoding":{"x":{"field":"d","type":"quantitative","scale":{"domain":[-5.35,134.35],"nice":false,"zero":false},"axis":{"values":[0,20,40,60,80,100,120],"title":"Singular Value Index (d)","titlePadding":4}}},
  "layer":[
   {"mark":{"type":"area","opacity":0.07,"interpolate":"monotone","clip":true},
    "encoding":{
     "y":{"field":"a","type":"quantitative","title":"Singular Value Magnitude (log scale)","scale":{"type":"log","domain":[0.00588,6.23],"nice":false},
      "axis":{"values":[0.006,0.007,0.008,0.009,0.01,0.02,0.03,0.04,0.05,0.06,0.07,0.08,0.09,0.1,0.2,0.3,0.4,0.5,0.6,0.7,0.8,0.9,1,2,3,4,5,6],"labelExpr":"datum.value===1?'10⁰':datum.value===0.1?'10⁻¹':datum.value===0.01?'10⁻²':''","titlePadding":4}},
     "y2":{"field":"b"},
     "fill":{"field":"l","type":"ordinal","legend":null,"scale":{"domain":[1,2,3,4,5,6,7,8,9,10,11,12,13,14,15,16,17,18,19,20,21,22,23,24,25,26,27,28,29,30,31,32,33,34,35,36],"range":["#6a8caf","#6d8fa0","#6aaa8e","#f5cba0","#c9ad96","#c3a5c9","#f4c2d8","#e0909a","#b8949f","#5a4a5a","#8a8078","#8fc28a","#f6e66a","#ffb494","#3d5a78","#98b4cc","#4f7f86","#8fc5b5","#eadcc0","#c4b09a","#c4a8d0","#f4c4d4","#e8aec0","#a07888","#9a8c98","#3a2a2a","#bcd8b4","#e8d84a","#ffc8b0","#4f6a84","#9ab8d8","#5f7f8a","#9cc8b8","#f0dcc0","#c8b098","#b896c0"]}}
    }},
   {"mark":{"type":"line","strokeWidth":1,"opacity":0.9,"interpolate":"monotone","clip":true},
    "encoding":{
     "y":{"field":"v","type":"quantitative","title":"Singular Value Magnitude (log scale)"},
     "color":{"field":"l","type":"ordinal","scale":{"domain":[1,2,3,4,5,6,7,8,9,10,11,12,13,14,15,16,17,18,19,20,21,22,23,24,25,26,27,28,29,30,31,32,33,34,35,36],"range":["#6a8caf","#6d8fa0","#6aaa8e","#f5cba0","#c9ad96","#c3a5c9","#f4c2d8","#e0909a","#b8949f","#5a4a5a","#8a8078","#8fc28a","#f6e66a","#ffb494","#3d5a78","#98b4cc","#4f7f86","#8fc5b5","#eadcc0","#c4b09a","#c4a8d0","#f4c4d4","#e8aec0","#a07888","#9a8c98","#3a2a2a","#bcd8b4","#e8d84a","#ffc8b0","#4f6a84","#9ab8d8","#5f7f8a","#9cc8b8","#f0dcc0","#c8b098","#b896c0"]},
      "legend":{"title":null,"labelExpr":"'Layer ' + datum.label","offset":11}}
    }}
  ],
  "resolve":{"scale":{"fill":"independent"},"legend":{"fill":"independent","color":"independent"}}
 }]
},
{
 "title":{"text":"(B) Polynomial Fit of Decay Trend","orient":"bottom","anchor":"middle","font":"Liberation Serif","fontSize":29,"fontWeight":"normal","color":"#000","offset":15},
 "vconcat":[{
  "title":"Singular Value Decay Statistics per Layer for Qwen/Qwen3-8B",
  "width":480,"height":393,
  "encoding":{"x":{"field":"d","type":"quantitative","scale":{"domain":[57.65,131.35],"nice":false,"zero":false},"axis":{"values":[60,70,80,90,100,110,120,130],"title":"Singular Value Index (d)","titlePadding":4}}},
  "layer":[
   {"data":{"name":"layers"},"transform":[{"filter":"datum.d >= 61"}],
    "mark":{"type":"area","opacity":0.07,"interpolate":"monotone","clip":true},
    "encoding":{
     "y":{"field":"a","type":"quantitative","title":"Singular Value Magnitude (log scale)","scale":{"type":"log","domain":[0.0031,4700000],"nice":false},
      "axis":{"values":[0.004,0.005,0.006,0.007,0.008,0.009,0.01,0.02,0.03,0.04,0.05,0.06,0.07,0.08,0.09,0.1,0.2,0.3,0.4,0.5,0.6,0.7,0.8,0.9,1,2,3,4,5,6,7,8,9,10,20,30,40,50,60,70,80,90,100,200,300,400,500,600,700,800,900,1000,2000,3000,4000,5000,6000,7000,8000,9000,10000,20000,30000,40000,50000,60000,70000,80000,90000,100000,200000,300000,400000,500000,600000,700000,800000,900000,1000000,2000000,3000000,4000000],"labelExpr":"datum.value===1000000?'10⁶':datum.value===100000?'10⁵':datum.value===10000?'10⁴':datum.value===1000?'10³':datum.value===100?'10²':datum.value===10?'10¹':datum.value===1?'10⁰':datum.value===0.1?'10⁻¹':datum.value===0.01?'10⁻²':''","titlePadding":4}},
     "y2":{"field":"b"},
     "fill":{"field":"l","type":"ordinal","legend":null,"scale":{"domain":[1,2,3,4,5,6,7,8,9,10,11,12,13,14,15,16,17,18,19,20,21,22,23,24,25,26,27,28,29,30,31,32,33,34,35,36],"range":["#5b7fa8","#c6d9ec","#4f9a8e","#a9c4ac","#f0c070","#ee9966","#d68970","#a04a3f","#c3b1d0","#6e6a7a","#f0c0c8","#d4b896","#9a9aa8","#1a2540","#e0d080","#88a0c8","#b8d0e8","#6aa898","#a8c0a8","#f0c068","#eea070","#d07060","#a07068","#b8a8c8","#a09aa8","#e09098","#e8e0c8","#505868","#5a6a80","#d8d870","#80a0d0","#b8cce0","#6a9a98","#a8c0a8","#f8c060","#f09050"]}}
    }},
   {"data":{"name":"layers"},"transform":[{"filter":"datum.d >= 61"}],
    "mark":{"type":"line","strokeWidth":1,"opacity":0.9,"interpolate":"monotone","clip":true},
    "encoding":{
     "y":{"field":"v","type":"quantitative","title":"Singular Value Magnitude (log scale)"},
     "color":{"field":"l","type":"ordinal","scale":{"domain":[1,2,3,4,5,6,7,8,9,10,11,12,13,14,15,16,17,18,19,20,21,22,23,24,25,26,27,28,29,30,31,32,33,34,35,36],"range":["#5b7fa8","#c6d9ec","#4f9a8e","#a9c4ac","#f0c070","#ee9966","#d68970","#a04a3f","#c3b1d0","#6e6a7a","#f0c0c8","#d4b896","#9a9aa8","#1a2540","#e0d080","#88a0c8","#b8d0e8","#6aa898","#a8c0a8","#f0c068","#eea070","#d07060","#a07068","#b8a8c8","#a09aa8","#e09098","#e8e0c8","#505868","#5a6a80","#d8d870","#80a0d0","#b8cce0","#6a9a98","#a8c0a8","#f8c060","#f09050"]},
      "legend":{"title":null,"labelExpr":"'Layer ' + datum.label","offset":9}}
    }},
   {"data":{"name":"fits"},
    "mark":{"type":"line","strokeDash":[6,4],"strokeWidth":1.5,"opacity":0.95,"clip":true},
    "encoding":{
     "y":{"field":"v","type":"quantitative","title":"Singular Value Magnitude (log scale)"},
     "stroke":{"field":"f","type":"nominal","legend":null,"scale":{"domain":["p","o","b","g","r"],"range":["#b98cff","#ff8a1e","#1f78e0","#2fc83c","#ff3838"]}}
    }},
   {"data":{"name":"notes"},
    "mark":{"type":"text","align":"left","baseline":"middle","fontSize":8.5,"font":"DejaVu Sans"},
    "encoding":{
     "y":{"field":"v","type":"quantitative","title":"Singular Value Magnitude (log scale)"},
     "text":{"field":"t"},
     "fill":{"field":"f","type":"nominal","legend":null,"scale":{"domain":["p","o","b","g","r"],"range":["#c4a0ff","#ff9b42","#3f8ee8","#4acc50","#ff5a5a"]}}
    }}
  ],
  "resolve":{"scale":{"fill":"independent"},"legend":{"fill":"independent","color":"independent"}}
 }]
}
],
"resolve":{"scale":{"x":"independent","y":"independent","color":"independent","fill":"independent","stroke":"independent"},"legend":{"color":"independent"}}
}
